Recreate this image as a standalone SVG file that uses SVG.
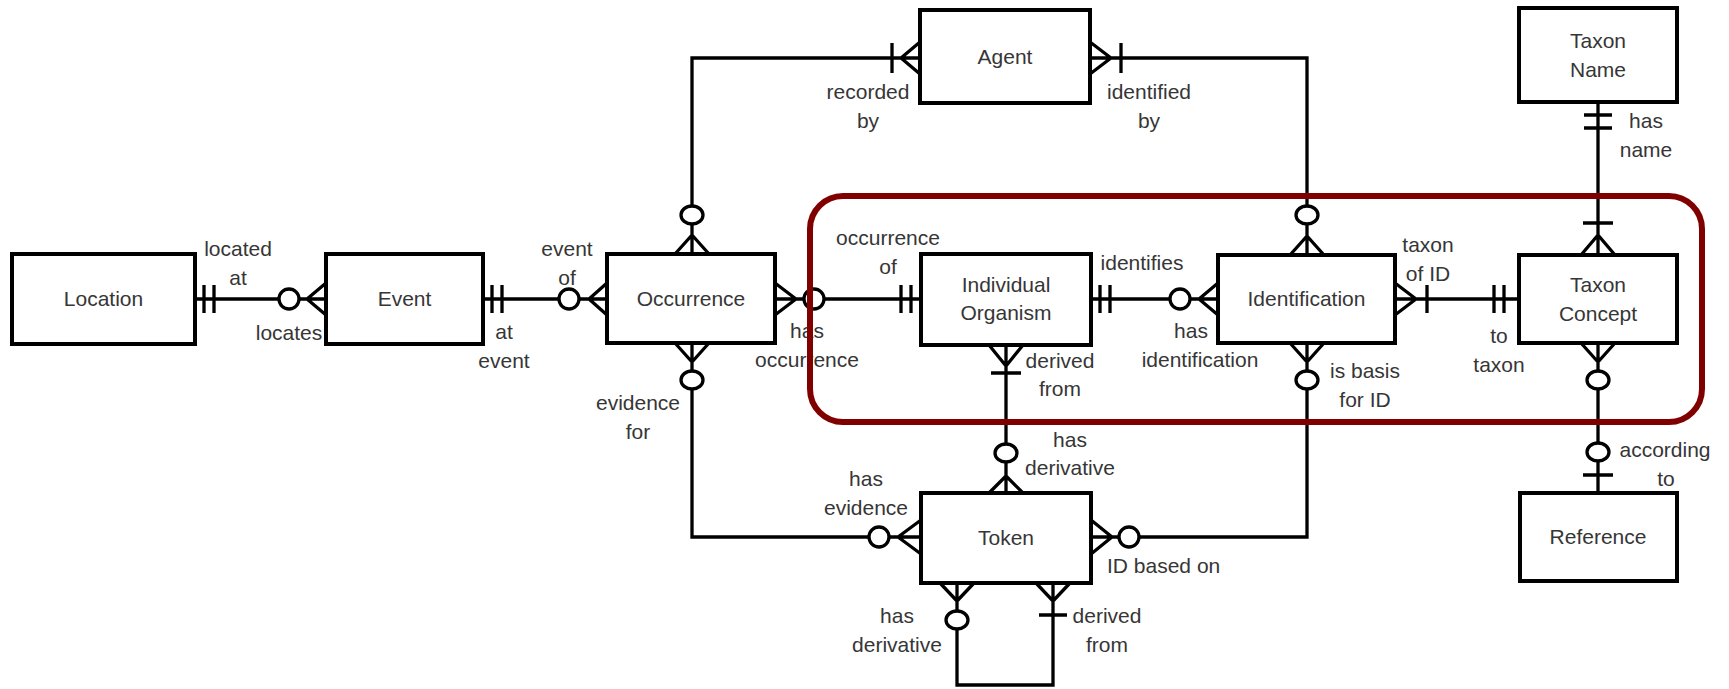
<svg xmlns="http://www.w3.org/2000/svg" width="1729" height="689" viewBox="0 0 1729 689">
<style>
.box{fill:#fff;stroke:#000;stroke-width:4}
.ln{fill:none;stroke:#000;stroke-width:3.3}
.o{fill:#fff;stroke:#000;stroke-width:3.3}
text{font-family:"Liberation Sans",Arial,sans-serif;font-size:21px;fill:#363636;text-anchor:middle}
.st{text-anchor:start}
.hl{fill:none;stroke:#800000;stroke-width:6}
</style>
<rect width="1729" height="689" fill="#fff"/>
<g id="connectors">
  <g id="c-location-event">
    <path class="ln" d="M195 299H326M204 285V313M214 285V313M307 299L326 283M307 299L326 315"/>
    <circle class="o" cx="289" cy="299" r="10"/>
  </g>
  <g id="c-event-occurrence">
    <path class="ln" d="M483 299H607M492 285V313M502 285V313M589 299L607 283M589 299L607 315"/>
    <circle class="o" cx="569" cy="299" r="10"/>
  </g>
  <g id="c-occurrence-organism">
    <path class="ln" d="M775 299H921M796 299L775 283M796 299L775 315M901 285V313M911 285V313"/>
    <circle class="o" cx="814" cy="299" r="10"/>
  </g>
  <g id="c-organism-identification">
    <path class="ln" d="M1091 299H1218M1100 285V313M1110 285V313M1199 299L1218 283M1199 299L1218 315"/>
    <circle class="o" cx="1180" cy="299" r="10"/>
  </g>
  <g id="c-identification-taxonconcept">
    <path class="ln" d="M1395 299H1519M1416 299L1395 283M1416 299L1395 315M1427 285V313M1494 285V313M1504 285V313"/>
  </g>
  <g id="c-occurrence-agent">
    <path class="ln" d="M692 254V58H920M692 235L675 254M692 235L709 254M901 58L920 42M901 58L920 74M892 43V73"/>
    <ellipse class="o" cx="692" cy="215" rx="11" ry="9"/>
  </g>
  <g id="c-identification-agent">
    <path class="ln" d="M1307 255V58H1090M1307 236L1290 255M1307 236L1324 255M1111 58L1090 42M1111 58L1090 74M1121 43V73"/>
    <ellipse class="o" cx="1307" cy="215" rx="11" ry="9"/>
  </g>
  <g id="c-taxonname-taxonconcept">
    <path class="ln" d="M1598 102V255M1584 115H1612M1584 128H1612M1583 223H1613M1598 235L1581 255M1598 235L1615 255"/>
  </g>
  <g id="c-organism-token">
    <path class="ln" d="M1006 345V493M1006 366L989 345M1006 366L1023 345M991 373H1021M1006 476L989 493M1006 476L1023 493"/>
    <ellipse class="o" cx="1006" cy="453" rx="11" ry="9"/>
  </g>
  <g id="c-occurrence-token">
    <path class="ln" d="M692 343V537H921M692 362L675 343M692 362L709 343M898 537L921 520M898 537L921 554"/>
    <ellipse class="o" cx="692" cy="380" rx="11" ry="9"/>
    <circle class="o" cx="879" cy="537" r="10"/>
  </g>
  <g id="c-identification-token">
    <path class="ln" d="M1307 343V537H1091M1307 362L1290 343M1307 362L1324 343M1112 537L1091 520M1112 537L1091 554"/>
    <ellipse class="o" cx="1307" cy="380" rx="11" ry="9"/>
    <circle class="o" cx="1129" cy="537" r="10"/>
  </g>
  <g id="c-token-token">
    <path class="ln" d="M957 583V685H1053V583M957 601L940 583M957 601L974 583M1053 601L1036 583M1053 601L1070 583M1039 615H1067"/>
    <ellipse class="o" cx="957" cy="620" rx="11" ry="9"/>
  </g>
  <g id="c-taxonconcept-reference">
    <path class="ln" d="M1598 343V493M1598 362L1581 343M1598 362L1615 343M1583 475H1613"/>
    <ellipse class="o" cx="1598" cy="380" rx="11" ry="9"/>
    <ellipse class="o" cx="1598" cy="452" rx="11" ry="9"/>
  </g>
</g>
<g id="labels">
  <text x="238" y="256">located</text><text x="238" y="285">at</text>
  <text x="289" y="340">locates</text>
  <text x="567" y="256">event</text><text x="567" y="285">of</text>
  <text x="504" y="339">at</text><text x="504" y="368">event</text>
  <text x="638" y="410">evidence</text><text x="638" y="439">for</text>
  <text x="807" y="338">has</text><text x="807" y="367">occurrence</text>
  <text x="888" y="245">occurrence</text><text x="888" y="274">of</text>
  <text x="1142" y="270">identifies</text>
  <text x="1191" y="338">has</text><text x="1200" y="367">identification</text>
  <text x="1428" y="252">taxon</text><text x="1428" y="281">of ID</text>
  <text x="1499" y="343">to</text><text x="1499" y="372">taxon</text>
  <text x="1365" y="378">is basis</text><text x="1365" y="407">for ID</text>
  <text x="1060" y="368">derived</text><text x="1060" y="396">from</text>
  <text x="1070" y="447">has</text><text x="1070" y="475">derivative</text>
  <text x="866" y="486">has</text><text x="866" y="515">evidence</text>
  <text class="st" x="1107" y="573">ID based on</text>
  <text x="897" y="623">has</text><text x="897" y="652">derivative</text>
  <text x="1107" y="623">derived</text><text x="1107" y="652">from</text>
  <text x="868" y="99">recorded</text><text x="868" y="128">by</text>
  <text x="1149" y="99">identified</text><text x="1149" y="128">by</text>
  <text x="1646" y="128">has</text><text x="1646" y="157">name</text>
  <text x="1665" y="457">according</text><text x="1666" y="486">to</text>
</g>
<g id="n-location"><rect class="box" x="12" y="254" width="183" height="90"/><text x="103.5" y="306">Location</text></g>
<g id="n-event"><rect class="box" x="326" y="254" width="157" height="90"/><text x="404.5" y="306">Event</text></g>
<g id="n-occurrence"><rect class="box" x="607" y="254" width="168" height="89"/><text x="691" y="306">Occurrence</text></g>
<g id="n-individual-organism"><rect class="box" x="921" y="254" width="170" height="91"/><text x="1006" y="292">Individual</text><text x="1006" y="320">Organism</text></g>
<g id="n-identification"><rect class="box" x="1218" y="255" width="177" height="88"/><text x="1306.5" y="306">Identification</text></g>
<g id="n-taxon-concept"><rect class="box" x="1519" y="255" width="158" height="88"/><text x="1598" y="292">Taxon</text><text x="1598" y="321">Concept</text></g>
<g id="n-agent"><rect class="box" x="920" y="10" width="170" height="93"/><text x="1005" y="64">Agent</text></g>
<g id="n-taxon-name"><rect class="box" x="1519" y="8" width="158" height="94"/><text x="1598" y="48">Taxon</text><text x="1598" y="77">Name</text></g>
<g id="n-token"><rect class="box" x="921" y="493" width="170" height="90"/><text x="1006" y="545">Token</text></g>
<g id="n-reference"><rect class="box" x="1520" y="493" width="157" height="88"/><text x="1598" y="544">Reference</text></g>
<g id="highlight"><rect class="hl" x="810" y="196" width="892" height="226" rx="33" ry="33"/></g>
</svg>
